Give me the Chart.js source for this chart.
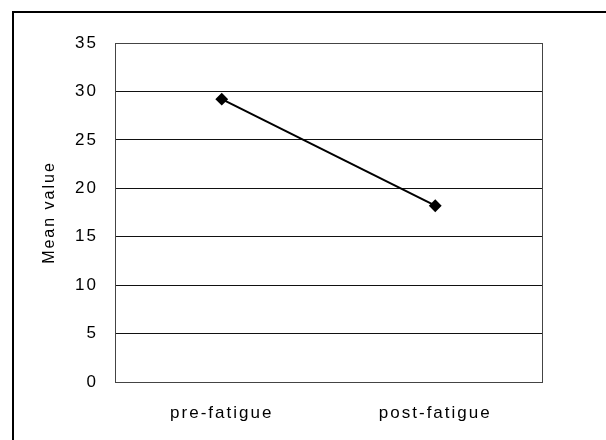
<!DOCTYPE html>
<html>
<head>
<meta charset="utf-8">
<script src="https://cdn.jsdelivr.net/npm/chart.js@4"></script>
<style>
html,body{margin:0;padding:0;background:#fff;}
#wrap{width:606px;height:440px;position:relative;}
</style>
</head>
<body>
<div id="wrap"><canvas id="c" width="606" height="440"></canvas></div>
<script>
const categories = ["pre-fatigue", "post-fatigue"];
const meanValues = [29.2, 18.2];
const yTicks = [0, 5, 10, 15, 20, 25, 30, 35];
const yTitle = "Mean value";

const spacingPlugin = {
  id: 'spacing',
  beforeUpdate(chart){ chart.ctx.letterSpacing = '2px'; },
  beforeDraw(chart){
    const ctx = chart.ctx;
    ctx.letterSpacing = '2px';
    ctx.save();
    ctx.fillStyle = '#fff';
    ctx.fillRect(0, 0, chart.width, chart.height);
    ctx.strokeStyle = '#000';
    ctx.lineWidth = 2;
    ctx.beginPath();
    ctx.moveTo(13, 440);
    ctx.lineTo(13, 12);
    ctx.lineTo(606, 12);
    ctx.stroke();
    ctx.restore();
  },
  beforeDatasetsDraw(chart){
    const a = chart.chartArea, ctx = chart.ctx;
    ctx.save();
    ctx.strokeStyle = '#444';
    ctx.lineWidth = 1;
    ctx.strokeRect(Math.round(a.left) + 0.5, Math.round(a.top) + 0.5, Math.round(a.right - a.left), Math.round(a.bottom - a.top));
    ctx.restore();
  }
};

new Chart(document.getElementById('c'), {
  type: 'line',
  data: {
    labels: categories,
    datasets: [{
      data: meanValues,
      borderColor: '#000',
      backgroundColor: '#000',
      borderWidth: 2,
      pointStyle: 'rectRot',
      pointRadius: 5,
      pointBackgroundColor: '#000',
      pointBorderColor: '#000',
      tension: 0
    }]
  },
  options: {
    responsive: false,
    animation: false,
    devicePixelRatio: 1,
    layout: { padding: { left: 0, top: 43, right: 64, bottom: 0 } },
    plugins: { legend: { display: false }, tooltip: { enabled: false } },
    scales: {
      x: {
        offset: true,
        grid: { display: false, drawTicks: false },
        border: { display: false },
        ticks: { color: '#000', padding: 21, font: { family: 'Liberation Sans', size: 17 } },
        afterFit(scale){ scale.height = 58; }
      },
      y: {
        min: 0, max: 35,
        afterBuildTicks(scale){ scale.ticks = yTicks.map(v => ({ value: v })); },
        grid: { color: '#111', lineWidth: 1, drawTicks: false },
        border: { display: false },
        ticks: { color: '#000', padding: 17, font: { family: 'Liberation Sans', size: 17 } },
        title: { display: true, text: yTitle, color: '#000', padding: { top: 40, bottom: 0 }, font: { family: 'Liberation Sans', size: 16 } },
        afterFit(scale){ scale.width = 115; }
      }
    }
  },
  plugins: [spacingPlugin]
});
</script>
</body>
</html>
